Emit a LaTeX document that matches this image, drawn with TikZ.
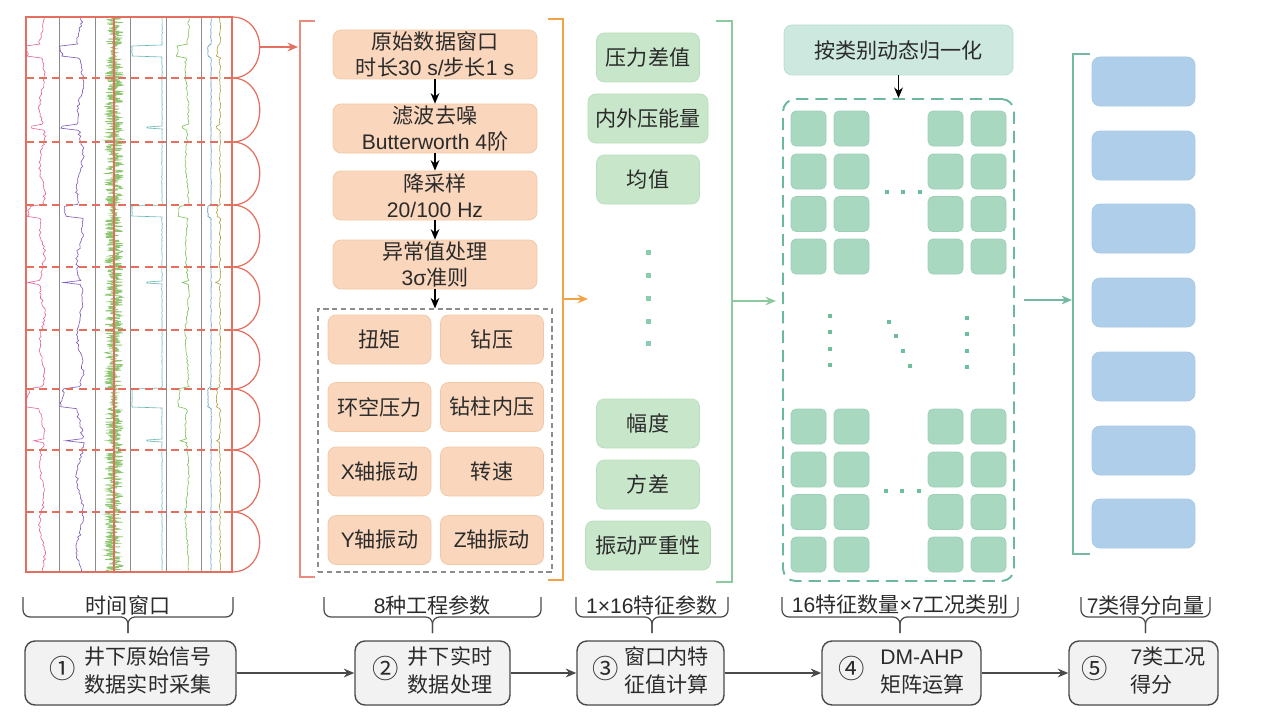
\documentclass[tikz,border=0pt]{standalone}
\usepackage{fontspec}
\setmainfont{Noto Sans CJK SC}
\newfontfamily\latfont{Liberation Sans}
\newcommand\lat[1]{{\latfont #1}}
\newcommand\stepno[1]{{\fontsize{15}{15}\selectfont #1}}
\usetikzlibrary{arrows.meta}

\definecolor{txt}{HTML}{2B2B2B}
\definecolor{sigred}{HTML}{E46F5E}
\definecolor{pinkc}{HTML}{E5629E}
\definecolor{purpc}{HTML}{7E57B8}
\definecolor{noisg}{HTML}{8DC46F}
\definecolor{tealc}{HTML}{66B9B9}
\definecolor{greenc}{HTML}{7CC35A}
\definecolor{bluet}{HTML}{4E98AE}
\definecolor{olivec}{HTML}{ABA240}
\definecolor{gridg}{HTML}{8C8C8C}
\definecolor{orfill}{HTML}{F9D6BC}
\definecolor{ordraw}{HTML}{F2C8A5}
\definecolor{orline}{HTML}{F0A447}
\definecolor{gfill}{HTML}{C8E6CA}
\definecolor{gdraw}{HTML}{B8DDBB}
\definecolor{gline}{HTML}{8DCB9F}
\definecolor{nfill}{HTML}{CDE8DF}
\definecolor{ndraw}{HTML}{B8DECF}
\definecolor{sqfill}{HTML}{A9D8C1}
\definecolor{sqdraw}{HTML}{9BCFB6}
\definecolor{mdash}{HTML}{6BB89B}
\definecolor{dotc}{HTML}{6CBF9A}
\definecolor{vline}{HTML}{72B9A3}
\definecolor{bfill}{HTML}{AFCEEA}
\definecolor{bdraw}{HTML}{A7C9E7}
\definecolor{sfill}{HTML}{F2F2F2}
\definecolor{sdraw}{HTML}{4A4A4A}

\def\pxu{0.02cm}

\begin{document}
\begin{tikzpicture}
  [
    x=0.02cm, y=-0.02cm,
    >={Stealth[length=6pt,width=5pt]},
    every node/.style = {text=txt, font=\fontsize{12}{15}\selectfont, inner sep=0pt},
    obox/.style  = {draw=ordraw, fill=orfill, rounded corners=0.16cm, minimum width=204*\pxu, minimum height=49*\pxu, align=center},
    pbox/.style  = {draw=ordraw, fill=orfill, rounded corners=0.16cm, minimum width=103*\pxu, minimum height=49*\pxu},
    featbox/.style = {draw=gdraw, fill=gfill, rounded corners=0.16cm, minimum width=103*\pxu, minimum height=49*\pxu},
    sqbox/.style = {draw=sqdraw, fill=sqfill, rounded corners=0.1cm, minimum size=35*\pxu},
    vbox/.style  = {draw=bdraw, fill=bfill, rounded corners=0.16cm, minimum width=103*\pxu, minimum height=49*\pxu},
    sbox/.style  = {draw=sdraw, fill=sfill, line width=0.8pt, rounded corners=0.2cm, minimum height=64*\pxu, font=\fontsize{12}{16}\selectfont},
    sigline/.style = {line width=0.35pt},
  ]

\useasboundingbox (0,0) rectangle (1270,723);

%Edges of the signal panel
\def \xl{26}
\def \xr{232}
\def \yt{17}
\def \yb{572}

%Events and spikes in the raw signals
\pgfmathsetseed{11}
\def \ev{((\t>45)*(\t<57)+(\t>205)*(\t<217)+(\t>388)*(\t<408))}
\def \sp{((\t>126)*(\t<129)+(\t>281)*(\t<284)+(\t>439)*(\t<442))}

%Signal panel
\foreach \x in {59,95,130,166,201}
  \draw[gridg, line width=0.4pt] (\x,\yt) -- (\x,\yb);

\draw[pinkc, sigline] plot[domain=18:571, samples=277, variable=\t] ({42+2.5*sin(\t*6)-13*\ev-11*\sp+1.3*rand}, \t);
\draw[purpc, sigline] plot[domain=18:571, samples=277, variable=\t] ({80+3*sin(\t*5+40)-16*\ev-16*\sp+1.5*rand}, \t);
\draw[noisg, line width=0.45pt] plot[domain=18:571, samples=1100, variable=\t] ({114+(9-6*\ev)*rand}, \t);
\draw[sigred, line width=1.2pt] (114,\yt) -- (114,\yb);
\draw[tealc, sigline] plot[domain=18:571, samples=554, variable=\t] ({162-30*\ev-15*\sp+0.3*rand}, \t);
\draw[greenc, sigline] plot[domain=18:571, samples=277, variable=\t] ({187+1.5*sin(\t*4)-9*\ev-5*\sp+1*rand}, \t);
\draw[bluet, sigline] plot[domain=18:571, samples=277, variable=\t] ({211-3*\ev+0.3*rand}, \t);
\draw[olivec, sigline] plot[domain=18:571, samples=277, variable=\t] ({220-3*\ev-4*\sp+0.8*rand}, \t);

%Time windows
\foreach \y in {78,142,205,267,330,389,450,512}
  \draw[sigred, line width=1.4pt, dash pattern=on 4.5pt off 3pt] (\xl,\y) -- (\xr,\y);
\draw[sigred, line width=1.2pt] (\xl,\yt) rectangle (\xr,\yb);
\foreach \ya/\yc in {17/78,78/142,142/205,205/267,267/330,330/389,389/450,450/512,512/572}
  \draw[sigred, line width=0.7pt] (\xr,\ya) .. controls (269,\ya) and (269,\yc) .. (\xr,\yc);

\coordinate (wa) at (260,47);
\coordinate (wb) at (298,47);
\draw[->, sigred, line width=0.8pt] (wa) -- (wb);
\draw[sigred!80, line width=0.6pt] (315,21) -- (300,21) -- (300,577) -- (315,577);

%Data processing
\node[obox] (o1) at (435,54.5) {原始数据窗口\\时长\lat{30 s/}步长\lat{1 s}};
\node[obox] (o2) at (435,128.5) {滤波去噪\\\lat{Butterworth 4}阶};
\node[obox] (o3) at (435,195.5) {降采样\\\lat{20/100 Hz}};
\node[obox] (o4) at (435,264.5) {异常值处理\\\lat{3σ}准则};
\node[draw=gridg, line width=0.7pt, dash pattern=on 3pt off 2pt, minimum width=234*\pxu, minimum height=263*\pxu] (params) at (435,440.5) {};

\foreach [count=\i] \cx/\cy/\t in {379.5/339.5/扭矩, 492/339.5/钻压, 379.5/407/环空压力, 492/407/钻柱内压, 379.5/471.5/\lat{X}轴振动, 492/471.5/转速, 379.5/540/\lat{Y}轴振动, 492/540/\lat{Z}轴振动}
  \node[pbox] (p\i) at (\cx,\cy) {\t};

\draw[->, line width=0.7pt] (o1) -- (o2);
\draw[->, line width=0.7pt] (o2) -- (o3);
\draw[->, line width=0.7pt] (o3) -- (o4);
\draw[->, line width=0.7pt] (o4) -- (params);

\draw[orline, line width=0.6pt] (548,19) -- (563,19) -- (563,580) -- (548,580);
\coordinate (oa) at (563,299);
\coordinate (ob) at (588,299);
\draw[->, orline, line width=0.8pt] (oa) -- (ob);

%Features
\foreach [count=\i] \cy/\w/\t in {57.5/103/压力差值, 118.5/120/内外压能量, 179.5/103/均值, 423.5/103/幅度, 484.5/103/方差, 545.5/125/振动严重性}
  \node[featbox, minimum width=\w*\pxu] (f\i) at (648,\cy) {\t};
\foreach \y in {252,275,298,321,343}
  \fill[dotc!80] (645.5,\y-2.5) rectangle (650.5,\y+2.5);

\draw[gline, line width=0.6pt] (716,21) -- (732,21) -- (732,582) -- (716,582);
\coordinate (ga) at (732,301);
\coordinate (gb) at (776,301);
\draw[->, gline, line width=0.8pt] (ga) -- (gb);

%DM-AHP matrix
\node[draw=ndraw, fill=nfill, rounded corners=0.16cm, minimum width=229*\pxu, minimum height=50*\pxu] (norm) at (898.5,50) {按类别动态归一化};
\node[draw=mdash, line width=1.1pt, dash pattern=on 7pt off 4pt, rounded corners=0.25cm, minimum width=231*\pxu, minimum height=482*\pxu] (mat) at (898.5,340) {};
\draw[->, line width=0.7pt] (norm) -- (mat);

\foreach [count=\i] \cx in {808.5,851.5,945.5,988.5}
  \foreach [count=\j] \cy in {128.5,171.5,214,256.5,426.5,469.5,512,554.5}
    \node[sqbox] (m\i\j) at (\cx,\cy) {};

\foreach \p in {(887,192),(903,192),(920,192),(886,491),(902,491),(919,491),
                (830,316),(830,332),(830,349),(830,365),(967,318),(967,334),(967,351),(967,367),
                (889,322),(896,336),(903,351),(910,366)}
  \fill[dotc] \p +(-2,-2) rectangle +(2,2);

\coordinate (ma) at (1024,300);
\coordinate (mb) at (1072,300);
\draw[->, vline, line width=0.8pt] (ma) -- (mb);

%Scores
\draw[vline, line width=0.6pt] (1090,54) -- (1073,54) -- (1073,554) -- (1090,554);
\foreach [count=\i] \cy in {81.5,155.5,228.5,302.5,376.5,450.5,523.5}
  \node[vbox] (v\i) at (1143.5,\cy) {};

%Steps
\node[sbox, minimum width=211*\pxu] (s1) at (130.5,673) {\stepno{①}\hspace{5pt}\begin{tabular}{@{}l@{}}井下原始信号\\数据实时采集\end{tabular}};
\node[sbox, minimum width=155*\pxu] (s2) at (432.5,673) {\stepno{②}\hspace{5pt}\begin{tabular}{@{}l@{}}井下实时\\数据处理\end{tabular}};
\node[sbox, minimum width=147*\pxu] (s3) at (650.5,673) {\stepno{③}\hspace{3pt}\begin{tabular}{@{}l@{}}窗口内特\\征值计算\end{tabular}};
\node[sbox, minimum width=159*\pxu] (s4) at (901.5,673) {\stepno{④}\hspace{9pt}\begin{tabular}{@{}l@{}}\lat{DM-AHP}\\矩阵运算\end{tabular}};
\node[sbox, minimum width=149*\pxu] (s5) at (1143.5,673) {\stepno{⑤}\hspace{13pt}\begin{tabular}{@{}l@{}}\lat{7}类工况\\得分\end{tabular}};

\foreach \a/\b in {s1/s2,s2/s3,s3/s4,s4/s5}
  \draw[->, sdraw, line width=0.8pt] (\a) -- (\b);

%Braces
\foreach [count=\i] \xa/\xb/\lab in {23/233/时间窗口, 324/541/{\lat{8}种工程参数}, 576/728/{\lat{1×16}特征参数}, 782/1018/{\lat{16}特征数量\lat{×7}工况类别}, 1081/1210/{\lat{7}类得分向量}}
{
  \pgfmathsetmacro{\xm}{(\xa+\xb)/2}
  \draw[sdraw, line width=0.7pt, rounded corners=0.14cm] (\xa,597) -- (\xa,617) -- (\xm,617) -- (\xm,633);
  \draw[sdraw, line width=0.7pt, rounded corners=0.14cm] (\xb,597) -- (\xb,617) -- (\xm,617) -- (\xm,633);
  \node (lab\i) at (\xm,605) {\lab};
}

\end{tikzpicture}
\end{document}
